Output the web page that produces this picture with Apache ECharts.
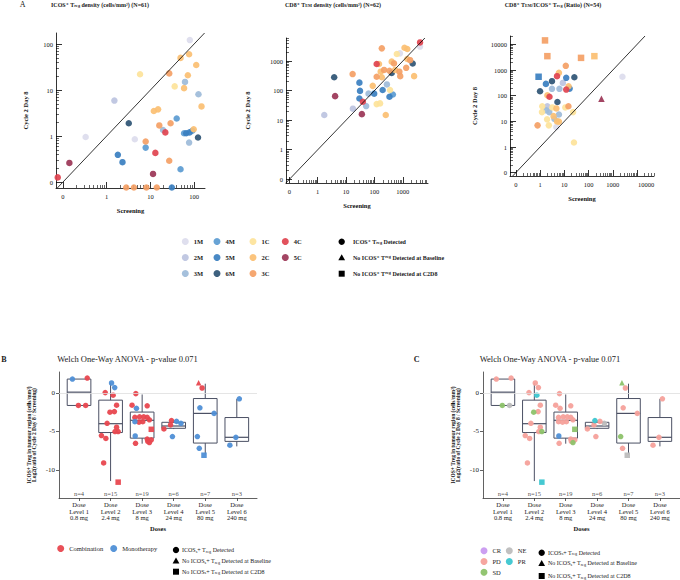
<!DOCTYPE html>
<html>
<head>
<meta charset="utf-8">
<script src="https://cdn.jsdelivr.net/npm/echarts@6/dist/echarts.min.js"></script>
<style>
  html, body { margin: 0; padding: 0; background: #fff; }
  #main { width: 680px; height: 580px; }
</style>
</head>
<body>
<div id="main"></div>
<script>
var SERIF = '"Liberation Serif", "DejaVu Serif", serif';

// cohort colours (panel A)
var cohorts = ['1M', '2M', '3M', '4M', '5M', '6M', '1C', '2C', '3C', '4C', '5C'];
var cohortColors = ['#dcdced', '#bcc3df', '#9dbbd9', '#5b9bd1', '#3a7fc0', '#2e5474',
                    '#fde39a', '#fbbf72', '#f4a065', '#e0434f', '#9b3556'];

// A1 - ICOS+ Treg density (cells/mm2), screening vs C2D8
var a1Screen = [80, 49, 77, 112, 27, 5.8, 72, 62, 36, 59,
                126, 1.5, 148, 12, 15, 40, 3.2, 16, 29, 19.5,
                22, 59, 66, 79, 91, 98, 123, 0.33, 4.4, 7.8,
                7.8, 77, 1.8, 13, 2.3, 27, 0.14, 49, 11.5, 0,
                14, 31, 2.8, 4.2, 8.1];
var a1C2D8 = [122, 50, 60, 35, 23, 22, 21, 15, 12, 11,
              8.1, 5.9, 4.4, 3.5, 3.8, 2.4, 1.9, 1.7, 1.9, 1.35,
              1.2, 1.15, 1.15, 1.2, 1.3, 1.4, 0.93, 0.95, 0.85, 0.76,
              0.56, 0.72, 0.39, 0.43, 0.27, 0.29, 0.26, 0.19, 0.15, 0.126,
              0, 0, 0, 0, 0];
var a1Cohort = ['1M', '2C', '2C', '2C', '3C', '1C', '2C', '3M', '1C', '2C',
                '3M', '2M', '2C', '2C', '2C', '4M', '6M', '3C', '3C', '3M',
                '4C', '4M', '5M', '5M', '4M', '2C', '6M', '1M', '1M', '3C',
                '4M', '3M', '5M', '4C', '5M', '3C', '5C', '4M', '5C', '4C',
                '3C', '5M', '3C', '3C', '3C'];

// A2 - CD8+ TEM density (cells/mm2)
var a2Screen = [4070, 4070, 1445, 1150, 182, 617, 794, 1445, 1820, 2240,
                120, 145, 407, 490, 1320, 219, 166, 339, 537, 407,
                759, 17, 120, 182, 813, 2510, 3.8, 29.5, 275, 87,
                31, 195, 355, 62, 98, 447, 339, 4.1, 29.5, 39,
                51, 17.4, 120, 158, 36, 251, 1.7];
var a2C2D8 = [4270, 3090, 2570, 2820, 2690, 1740, 1820, 1175, 1070, 830,
              794, 794, 955, 832, 590, 501, 437, 468, 501, 398,
              437, 363, 295, 282, 309, 309, 282, 186, 162, 145,
              98, 105, 105, 79, 79, 74, 62, 65, 54, 42,
              30, 24.5, 35, 37, 16, 15, 15];
var a2Cohort = ['4C', '1M', '2C', '2C', '3C', '1C', '1M', '2C', '3C', '6M',
                '4C', '2C', '2C', '3C', '3C', '3C', '2C', '3C', '2C', '6M',
                '3C', '3C', '3C', '2C', '3C', '2C', '6M', '5M', '3M', '2C',
                '5M', '5M', '1C', '3M', '5M', '4M', '5M', '5C', '5M', '4C',
                '3M', '2M', '1C', '1C', '5C', '2C', '2M'];

// A3 - CD8+ TEM / ICOS+ Treg ratio
var a3Screen = [1.6, 2.0, 49, 174, 0.87, 11.5, 6.0, 5.0, 12, 26,
                1.74, 3.1, 3.1, 6.3, 8.7, 15, 12, 16.6, 1.0, 2.45,
                2.0, 5.2, 2500, 340, 1.23, 2.0, 3.2, 1.8, 2.4, 4.7,
                11, 14.8, 1.2, 3.6, 6.0, 23, 1.95, 3.9, 5.0, 0.79,
                2.3, 4.7, 6.0, 25];
var a3C2D8 = [14400, 3500, 3000, 3500, 550, 1470, 780, 580, 500, 525,
              290, 370, 186, 186, 316, 234, 174, 190, 150, 91,
              105, 57, 550, 76, 39, 39, 35, 27, 23, 32,
              35, 39, 23, 16, 18.6, 23, 12, 12.6, 10, 7,
              7, 6, 9.8, 1.5];
var a3Cohort = ['3C', '3C', '3C', '2C', '5M', '3C', '2C', '4C', '5M', '6M',
                '5M', '6M', '3M', '3M', '2M', '2C', '4C', '5M', '6M', '4C',
                '2C', '6M', '1M', '5C', '1C', '2M', '1C', '3M', '3M', '2C',
                '1C', '3C', '1C', '2C', '3M', '1C', '1C', '3M', '2C', '3C',
                '1C', '1M', '2C', '1C'];
var a3Status = ['noC2D8', 'noC2D8', 'noC2D8', 'noC2D8', 'noC2D8', 'det', 'det', 'det', 'det', 'det',
                'det', 'det', 'det', 'det', 'det', 'det', 'det', 'det', 'det', 'det',
                'det', 'det', 'det', 'noBase', 'det', 'det', 'det', 'det', 'det', 'det',
                'det', 'det', 'det', 'det', 'det', 'det', 'det', 'det', 'det', 'det',
                'det', 'det', 'det', 'det'];

// B / C - log2 ratio by dose level
var doseNames = ['Dose\nLevel 1\n0.8 mg', 'Dose\nLevel 2\n2.4 mg', 'Dose\nLevel 3\n8 mg',
                 'Dose\nLevel 4\n24 mg', 'Dose\nLevel 5\n80 mg', 'Dose\nLevel 6\n240 mg'];
var nLabels = ['n=4', 'n=15', 'n=19', 'n=6', 'n=7', 'n=3'];
var boxMin = [-1.63, -11.46, -6.6, -4.7, -8.03, -6.95];
var boxQ1 = [-1.63, -5.15, -5.88, -4.6, -6.52, -6.3];
var boxMed = [0.1, -4.0, -3.56, -4.3, -2.66, -5.77];
var boxQ3 = [1.8, -0.94, -2.49, -3.82, -0.73, -3.2];
var boxMax = [1.8, 1.29, -0.2, -3.6, 1.2, -0.77];

var ptDose = [1.26, 0.79, 0.98, 1.21,
              2.03, 2.13, 1.83, 2.08, 2.19, 1.98, 2.12, 1.89, 2.19, 2.24, 2.14, 1.71, 1.85, 1.78, 2.24,
              2.80, 2.68, 3.16, 2.82, 2.77, 2.92, 3.16, 3.23, 2.77, 3.02, 3.29, 2.78, 3.16, 3.29, 3.18, 2.79, 3.23, 3.05, 2.90,
              3.93, 4.09, 4.23, 3.90, 3.69, 3.96,
              4.79, 4.90, 4.83, 5.28, 4.75, 4.81, 4.96,
              6.08, 5.97, 5.78];
var ptLog2 = [1.93, 1.80, -1.63, -1.63,
              1.29, 0.69, 0.04, -0.30, -1.60, -2.50, -2.43, -3.95, -4.46, -5.02, -5.02, -5.54, -5.92, -9.10, -11.60,
              -0.09, -1.60, -1.68, -2.00, -3.18, -3.10, -3.18, -3.50, -3.74, -3.74, -4.73, -5.60, -6.00, -6.10, -6.30, -6.55, -6.45, -3.10, -3.80,
              -3.60, -3.70, -3.95, -4.16, -4.68, -5.67,
              1.33, 0.64, -1.93, -2.66, -5.67, -7.20, -8.10,
              -0.77, -5.77, -6.80];
var ptArm = ['C', 'M', 'C', 'C',
             'M', 'M', 'C', 'C', 'C', 'C', 'C', 'C', 'C', 'C', 'C', 'C', 'C', 'C', 'C',
             'C', 'C', 'C', 'M', 'C', 'C', 'C', 'C', 'M', 'C', 'C', 'M', 'C', 'C', 'C', 'C', 'C', 'C', 'C',
             'C', 'M', 'M', 'C', 'C', 'M',
             'C', 'C', 'M', 'M', 'M', 'M', 'M',
             'M', 'M', 'M'];
var ptResp = ['PD', 'PD', 'SD', 'NE',
              'PD', 'PD', 'PD', 'PR', 'PD', 'SD', 'PD', 'PD', 'PD', 'SD', 'PD', 'PD', 'PD', 'PD', 'PR',
              'PD', 'PD', 'PD', 'PD', 'PD', 'PD', 'PD', 'PD', 'PD', 'PD', 'SD', 'UNK', 'PD', 'PD', 'PD', 'PD', 'SD', 'PD', 'PD',
              'PR', 'PD', 'NE', 'PD', 'PD', 'PD',
              'SD', 'PD', 'PD', 'PD', 'SD', 'PD', 'NE',
              'PD', 'PD', 'PD'];
var ptStatus = ['det', 'det', 'det', 'det',
                'det', 'det', 'det', 'det', 'det', 'det', 'det', 'det', 'det', 'det', 'det', 'det', 'det', 'det', 'noC2D8',
                'det', 'det', 'det', 'det', 'det', 'det', 'det', 'det', 'det', 'det', 'noC2D8', 'det', 'det', 'det', 'det', 'det', 'det', 'det', 'det',
                'det', 'det', 'det', 'det', 'det', 'det',
                'noBase', 'det', 'det', 'det', 'det', 'det', 'noC2D8',
                'det', 'det', 'det'];

var arms = ['Combination', 'Monotherapy'];
var armCodes = ['C', 'M'];
var armColors = ['#e8474f', '#4f8fd6'];
var responses = ['CR', 'NE', 'PD', 'PR', 'SD', 'UNK'];
var respColors = ['#c99af0', '#bdbdbd', '#f5a19b', '#3cc6d0', '#8dc26a', '#4f8fd6'];

var symbolOf = { det: 'circle', noBase: 'triangle', noC2D8: 'rect' };

// zeros sit just under the "0" tick, like the original plot
function pseudoLog(v) { return v > 0 ? Math.log10(v) : -1.12; }

function logLabel(v) { return v < -0.5 ? '0' : String(Math.pow(10, Math.floor(v + 1e-6))); }

function decades(lo, hi) {
    var out = [];
    for (var n = lo; n <= hi; n++) out.push(n);
    return out;
}
function minorTicks(lo, max) {
    var out = [];
    for (var n = lo; n < max; n++) {
        for (var k = 2; k <= 9; k++) {
            var v = n + Math.log10(k);
            if (v < max) out.push(v);
        }
    }
    return out;
}

var chart = echarts.init(document.getElementById('main'), null, { renderer: 'svg' });

var option = {
    animation: false,
    backgroundColor: '#fff',
    textStyle: { fontFamily: SERIF },
    grid: [], xAxis: [], yAxis: [], series: [], legend: [], graphic: []
};

// lastShift: the top x label of the ratio panel sits a bit right of its tick in the original
var aPanels = [
    { grid: { left: 56, top: 33, width: 149, height: 155 }, x: [-1.16, 2.25], y: [-1.13, 2.24], xTop: 2, yTop: 2, yGap: 27, lastShift: 0,
      screen: a1Screen, c2d8: a1C2D8, cohort: a1Cohort, status: null },
    { grid: { left: 286, top: 38, width: 142, height: 145 }, x: [-1.12, 3.89], y: [-1.125, 3.78], xTop: 3, yTop: 3, yGap: 35, lastShift: 0,
      screen: a2Screen, c2d8: a2C2D8, cohort: a2Cohort, status: null },
    { grid: { left: 510, top: 36, width: 144, height: 140 }, x: [-1.24, 4.7], y: [-1.13, 4.33], xTop: 4, yTop: 4, yGap: 32, lastShift: 0.37,
      screen: a3Screen, c2d8: a3C2D8, cohort: a3Cohort, status: a3Status }
];

var axisFont = { fontSize: 6.5, fontFamily: SERIF, color: '#111' };
var nameFont = { fontSize: 6.5, fontFamily: SERIF, fontWeight: 'bold', color: '#111' };

aPanels.forEach(function (p, gi) {
    p.grid.outerBoundsMode = 'none';
    option.grid.push(p.grid);
    var xMaj = decades(-1, p.xTop), yMaj = decades(-1, p.yTop);
    var xLab = xMaj.slice();
    xLab[xLab.length - 1] += p.lastShift;
    option.xAxis.push({
        type: 'value', gridIndex: gi, min: p.x[0], max: p.x[1], position: 'bottom',
        axisLine: { onZero: false, lineStyle: { color: '#000', width: 0.8 } },
        axisTick: { inside: true, length: 6, customValues: xMaj, lineStyle: { color: '#000', width: 0.8 } },
        axisLabel: Object.assign({ customValues: xLab, formatter: logLabel, margin: 5 }, axisFont),
        splitLine: { show: false },
        name: 'Screening', nameLocation: 'middle', nameGap: 19, nameTextStyle: nameFont
    });
    option.xAxis.push({
        type: 'value', gridIndex: gi, min: p.x[0], max: p.x[1], position: 'bottom',
        axisLine: { show: false, onZero: false },
        axisTick: { inside: true, length: 3, customValues: minorTicks(-1, p.x[1]), lineStyle: { color: '#000', width: 0.6 } },
        axisLabel: { show: false }, splitLine: { show: false }
    });
    option.yAxis.push({
        type: 'value', gridIndex: gi, min: p.y[0], max: p.y[1], position: 'left',
        axisLine: { onZero: false, lineStyle: { color: '#000', width: 0.8 } },
        axisTick: { inside: true, length: 6, customValues: yMaj, lineStyle: { color: '#000', width: 0.8 } },
        axisLabel: Object.assign({ customValues: yMaj, formatter: logLabel, margin: 3 }, axisFont),
        splitLine: { show: false },
        name: 'Cycle 2 Day 8', nameLocation: 'middle', nameGap: p.yGap, nameRotate: 90, nameTextStyle: nameFont
    });
    option.yAxis.push({
        type: 'value', gridIndex: gi, min: p.y[0], max: p.y[1], position: 'left',
        axisLine: { show: false, onZero: false },
        axisTick: { inside: true, length: 3, customValues: minorTicks(-1, p.y[1]), lineStyle: { color: '#000', width: 0.6 } },
        axisLabel: { show: false }, splitLine: { show: false }
    });

    cohorts.forEach(function (c, ci) {
        var data = [];
        p.screen.forEach(function (s, i) {
            if (p.cohort[i] !== c) return;
            data.push({
                value: [pseudoLog(s), pseudoLog(p.c2d8[i])],
                symbol: symbolOf[p.status ? p.status[i] : 'det']
            });
        });
        option.series.push({
            type: 'scatter', name: c, xAxisIndex: gi * 2, yAxisIndex: gi * 2,
            data: data, symbolSize: 6.5, z: 3,
            itemStyle: { color: cohortColors[ci], opacity: 0.92 }
        });
    });

    // identity line
    var lo = Math.max(p.x[0], p.y[0]), hi = Math.min(p.x[1], p.y[1]);
    option.series.push({
        type: 'line', xAxisIndex: gi * 2, yAxisIndex: gi * 2, data: [[lo, lo], [hi, hi]],
        symbol: 'none', silent: true, z: 4, lineStyle: { color: '#000', width: 0.8 }
    });
});

// ---- panels B and C ----
var doseTicks = [1, 2, 3, 4, 5, 6];
var bcPanels = [
    { grid: { left: 59, top: 372, width: 198, height: 126 }, by: 'arm' },
    { grid: { left: 483, top: 372, width: 197, height: 126 }, by: 'resp' }
];

function boxItem(params, api) {
    var x = api.value(0);
    var half = 0.375;
    var lo = api.coord([x - half, api.value(2)]);
    var hi = api.coord([x + half, api.value(4)]);
    var med = api.coord([x, api.value(3)]);
    var top = api.coord([x, api.value(5)]);
    var bot = api.coord([x, api.value(1)]);
    var stroke = '#4b5064';
    return {
        type: 'group',
        children: [
            { type: 'line', shape: { x1: top[0], y1: top[1], x2: top[0], y2: hi[1] }, style: { stroke: stroke, lineWidth: 1 } },
            { type: 'line', shape: { x1: bot[0], y1: bot[1], x2: bot[0], y2: lo[1] }, style: { stroke: stroke, lineWidth: 1 } },
            { type: 'rect', shape: { x: lo[0], y: hi[1], width: hi[0] - lo[0], height: lo[1] - hi[1] }, style: { stroke: stroke, fill: 'none', lineWidth: 1 } },
            { type: 'line', shape: { x1: lo[0], y1: med[1], x2: hi[0], y2: med[1] }, style: { stroke: stroke, lineWidth: 1.2 } }
        ]
    };
}

bcPanels.forEach(function (p, k) {
    var gi = 3 + k, ai = 6 + k;
    p.grid.outerBoundsMode = 'none';
    option.grid.push(p.grid);
    option.xAxis.push({
        type: 'value', gridIndex: gi, min: 0.365, max: 6.64, position: 'bottom',
        axisLine: { onZero: false, lineStyle: { color: '#3a3a3a', width: 0.8 } },
        axisTick: { customValues: doseTicks, length: 3, lineStyle: { color: '#3a3a3a', width: 0.8 } },
        axisLabel: {
            customValues: doseTicks, formatter: function (v) { return doseNames[Math.round(v) - 1]; },
            fontSize: 6.5, lineHeight: 6.7, margin: 3, color: '#222', fontFamily: SERIF
        },
        splitLine: { show: false },
        name: 'Doses', nameLocation: 'middle', nameGap: 27, nameTextStyle: nameFont
    });
    option.yAxis.push({
        type: 'value', gridIndex: gi, min: -13.66, max: 2.72, position: 'left',
        axisLine: { onZero: false, lineStyle: { color: '#3a3a3a', width: 0.8 } },
        axisTick: { customValues: [-10, -5, 0], length: 3, lineStyle: { color: '#3a3a3a', width: 0.8 } },
        axisLabel: { customValues: [-10, -5, 0], fontSize: 7, margin: 4, color: '#222', fontFamily: SERIF },
        splitLine: { show: false },
        name: 'ICOS+ Treg in tumour region (cells/mm²)\nLog2(ratio of Cycle 2 Day 8 / Screening)',
        nameLocation: 'middle', nameGap: 22, nameRotate: 90,
        nameTextStyle: { fontSize: 5.5, lineHeight: 5.5, fontWeight: 'bold', fontFamily: SERIF, color: '#111' }
    });

    option.series.push({
        type: 'custom', xAxisIndex: ai, yAxisIndex: ai, renderItem: boxItem, silent: true, z: 2,
        encode: { x: 0, y: [1, 2, 3, 4, 5] },
        data: doseTicks.map(function (d, i) { return [d, boxMin[i], boxQ1[i], boxMed[i], boxQ3[i], boxMax[i]]; })
    });
    // n labels and zero reference line
    option.series.push({
        type: 'scatter', xAxisIndex: ai, yAxisIndex: ai, symbolSize: 0, silent: true, z: 1,
        data: doseTicks.map(function (d) { return [d, -13.1]; }),
        label: {
            show: true, position: 'inside', fontSize: 6.5, color: '#222', fontFamily: SERIF,
            formatter: function (q) { return nLabels[q.dataIndex]; }
        },
        markLine: {
            silent: true, symbol: 'none', label: { show: false },
            lineStyle: { color: '#dedede', width: 0.8, type: 'solid' },
            data: [{ yAxis: 0 }]
        }
    });

    var groups = p.by === 'arm' ? armCodes : responses;
    var names = p.by === 'arm' ? arms : responses;
    var colors = p.by === 'arm' ? armColors : respColors;
    var key = p.by === 'arm' ? ptArm : ptResp;
    groups.forEach(function (g, gi2) {
        var data = [];
        ptDose.forEach(function (x, i) {
            if (key[i] !== g) return;
            data.push({ value: [x, ptLog2[i]], symbol: symbolOf[ptStatus[i]] });
        });
        option.series.push({
            type: 'scatter', name: names[gi2], xAxisIndex: ai, yAxisIndex: ai,
            data: data, symbolSize: 5.5, z: 3,
            itemStyle: { color: colors[gi2], opacity: 0.95 }
        });
    });
});

// ---- legends ----
var legendText = { fontSize: 6.5, fontFamily: SERIF, color: '#222', lineHeight: 8, padding: 0 };
var aLegendCols = [['1M', '2M', '3M'], ['4M', '5M', '6M'], ['1C', '2C', '3C'], ['4C', '5C']];
var aLegendLeft = [181.8, 213.5, 249.5, 281.8];
aLegendCols.forEach(function (col, i) {
    option.legend.push({
        orient: 'vertical', left: aLegendLeft[i], top: 237.5, padding: 0,
        itemWidth: 7, itemHeight: 7, itemGap: 8, icon: 'circle', selectedMode: false,
        textStyle: Object.assign({ fontWeight: 'bold' }, legendText), data: col
    });
});
option.legend.push({
    left: 57.2, top: 544.5, padding: 0, itemWidth: 7, itemHeight: 7, icon: 'circle', selectedMode: false,
    textStyle: legendText, data: ['Combination']
});
option.legend.push({
    left: 110.2, top: 544.5, padding: 0, itemWidth: 7, itemHeight: 7, icon: 'circle', selectedMode: false,
    textStyle: legendText, data: ['Monotherapy']
});
option.legend.push({
    orient: 'vertical', left: 480.5, top: 547.2, padding: 0, itemWidth: 7, itemHeight: 7, itemGap: 3.8,
    icon: 'circle', selectedMode: false, textStyle: Object.assign({}, legendText, { lineHeight: 7 }),
    data: ['CR', 'PD', 'SD']
});
option.legend.push({
    orient: 'vertical', left: 505.8, top: 547.2, padding: 0, itemWidth: 7, itemHeight: 7, itemGap: 3.8,
    icon: 'circle', selectedMode: false, textStyle: Object.assign({}, legendText, { lineHeight: 7 }),
    data: ['NE', 'PR']
});

// ---- titles, letters and shape keys ----
function richFor(size, weight) {
    return {
        s: { fontSize: size * 0.7, fontWeight: weight, fontFamily: SERIF, verticalAlign: 'bottom', lineHeight: size * 0.7 },
        u: { fontSize: size * 0.7, fontWeight: weight, fontFamily: SERIF, verticalAlign: 'top', lineHeight: size * 0.7 }
    };
}
function label(x, y, text, size, weight, align) {
    return {
        type: 'text', x: x, y: y, silent: true,
        style: {
            text: text, fontSize: size, fontWeight: weight, fontFamily: SERIF, fill: '#1a1a1a',
            align: align || 'center', verticalAlign: 'middle', rich: richFor(size, weight)
        }
    };
}
function shapeKey(cx, cy, kind) {
    if (kind === 'circle') return { type: 'circle', silent: true, shape: { cx: cx, cy: cy, r: 3.2 }, style: { fill: '#000' } };
    if (kind === 'triangle') return { type: 'polygon', silent: true, shape: { points: [[cx, cy - 3.4], [cx - 3.4, cy + 2.6], [cx + 3.4, cy + 2.6]] }, style: { fill: '#000' } };
    return { type: 'rect', silent: true, shape: { x: cx - 3, y: cy - 3, width: 6, height: 6 }, style: { fill: '#000' } };
}

var g = option.graphic;
g.push(label(22.7, 4.5, 'A', 8, 'normal'));
g.push(label(100, 4.5, 'ICOS⁺ T{s|reg} density (cells/mm²) (N=61)', 6, 'bold'));
g.push(label(333, 4.5, 'CD8⁺ T{s|EM} density (cells/mm²) (N=62)', 6, 'bold'));
g.push(label(553, 4.5, 'CD8⁺ T{s|EM}/ICOS⁺ T{s|reg} (Ratio) (N=54)', 6, 'bold'));

g.push(shapeKey(341.7, 241.7, 'circle'));
g.push(shapeKey(341.7, 257.7, 'triangle'));
g.push(shapeKey(341.7, 273.7, 'rect'));
g.push(label(353, 241.7, 'ICOS⁺ T{s|reg} Detected', 6, 'bold', 'left'));
g.push(label(353, 257.7, 'No ICOS⁺ T{u|reg} Detected at Baseline', 6, 'bold', 'left'));
g.push(label(353, 273.7, 'No ICOS⁺ T{u|reg} Detected at C2D8', 6, 'bold', 'left'));

g.push(label(4, 359.3, 'B', 8, 'bold'));
g.push(label(127.5, 359.3, 'Welch One-Way ANOVA - p-value 0.071', 8.5, 'normal'));
g.push(label(416.7, 359.3, 'C', 8, 'bold'));
g.push(label(550, 359.3, 'Welch One-Way ANOVA - p-value 0.071', 8.5, 'normal'));

var keyTexts = ['ICOS{s|s}+ T{s|reg} Detected', 'No ICOS{s|s}+ T{s|reg} Detected at Baseline', 'No ICOS{s|s}+ T{s|reg} Detected at C2D8'];
var keyKinds = ['circle', 'triangle', 'rect'];
var bKeyY = [550, 561, 571.7];
var cKeyY = [552.7, 563.3, 576];
keyKinds.forEach(function (kind, i) {
    g.push(shapeKey(176, bKeyY[i], kind));
    g.push(label(182, bKeyY[i], keyTexts[i], 6, 'normal', 'left'));
    g.push(shapeKey(541.7, cKeyY[i], kind));
    g.push(label(548, cKeyY[i], keyTexts[i], 6, 'normal', 'left'));
});

chart.setOption(option);
</script>
</body>
</html>
